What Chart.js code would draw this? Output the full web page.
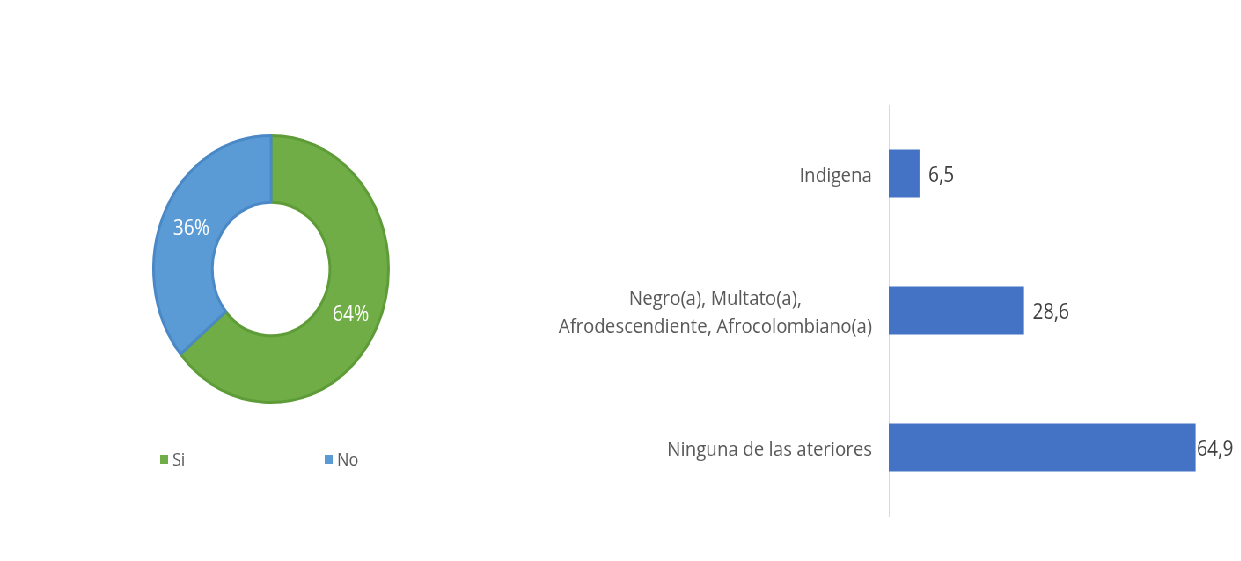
<!DOCTYPE html>
<html lang="es">
<head>
    <meta charset="UTF-8">
    <title>Autorreconocimiento étnico</title>
    <script src="https://cdn.jsdelivr.net/npm/chart.js"></script>
    <style>
        body { margin: 0; background-color: #ffffff; overflow: hidden; }
        #lienzo { position: absolute; left: 0; top: 0; width: 1410px; height: 561px; transform: scaleX(0.88); transform-origin: 0 0; }
        #cajaDona { position: absolute; left: 0; top: 0; width: 640px; height: 561px; }
        #cajaBarras { position: absolute; left: 620px; top: 0; width: 790px; height: 561px; }
    </style>
</head>
<body>
<div id="lienzo">
    <div id="cajaDona"><canvas id="dona"></canvas></div>
    <div id="cajaBarras"><canvas id="barras"></canvas></div>
</div>

<script>
    // Datos de la dona
    const respuestas = ['Si', 'No'];
    const porcentajes = [64, 36];
    const coloresDona = ['#70ad47', '#5b9bd5'];
    const bordesDona = ['#5e9c38', '#4a89c6'];

    // Datos de las barras
    const grupos = [
        ['Indigena'],
        ['Negro(a), Multato(a),', 'Afrodescendiente, Afrocolombiano(a)'],
        ['Ninguna de las ateriores']
    ];
    const valores = [6.5, 28.6, 64.9];

    const fuente = '"Open Sans", sans-serif';

    // etiquetas blancas dentro de la dona
    const etiquetasDona = {
        id: 'etiquetasDona',
        afterDatasetsDraw(chart) {
            const ctx = chart.ctx;
            const meta = chart.getDatasetMeta(0);
            ctx.save();
            ctx.font = '21px ' + fuente;
            ctx.fillStyle = '#ffffff';
            ctx.textAlign = 'center';
            ctx.textBaseline = 'middle';
            meta.data.forEach((arco, i) => {
                const p = arco.tooltipPosition();
                ctx.fillText(porcentajes[i] + '%', p.x, p.y + 3);
            });
            ctx.restore();
        }
    };

    // leyenda debajo de la dona
    const leyendaDona = {
        id: 'leyendaDona',
        afterDraw(chart) {
            const ctx = chart.ctx;
            const a = chart.chartArea;
            const cx = (a.left + a.right) / 2;
            const y = 460;
            const posiciones = [cx - 126, cx + 61];
            ctx.save();
            ctx.font = '18px ' + fuente;
            ctx.textBaseline = 'middle';
            respuestas.forEach((r, i) => {
                ctx.fillStyle = coloresDona[i];
                ctx.fillRect(posiciones[i], y - 5, 9, 9);
                ctx.fillStyle = '#595959';
                ctx.fillText(r, posiciones[i] + 14, y + 1);
            });
            ctx.restore();
        }
    };

    new Chart(document.getElementById('dona'), {
        type: 'doughnut',
        data: {
            labels: respuestas,
            datasets: [{
                data: porcentajes,
                backgroundColor: coloresDona,
                borderColor: bordesDona,
                borderWidth: 3
            }]
        },
        options: {
            responsive: true,
            maintainAspectRatio: false,
            animation: false,
            cutout: '50%',
            layout: { padding: { left: 173, top: 134, right: 197, bottom: 157 } },
            plugins: { legend: { display: false }, tooltip: { enabled: false } }
        },
        plugins: [etiquetasDona, leyendaDona]
    });

    // nombres de categoria y valores de las barras
    const textosBarras = {
        id: 'textosBarras',
        afterDatasetsDraw(chart) {
            const ctx = chart.ctx;
            const escalaY = chart.scales.y;
            const meta = chart.getDatasetMeta(0);
            ctx.save();
            ctx.font = '20.5px ' + fuente;
            ctx.textBaseline = 'middle';
            const lineaAlto = 28;
            grupos.forEach((lineas, i) => {
                const yc = escalaY.getPixelForTick(i) + 3;
                const ancho = Math.max(...lineas.map(l => ctx.measureText(l).width));
                const xc = escalaY.left - 19 - ancho / 2;
                ctx.fillStyle = '#595959';
                ctx.textAlign = 'center';
                lineas.forEach((l, j) => {
                    const y = yc + (j - (lineas.length - 1) / 2) * lineaAlto;
                    ctx.fillText(l, xc, y);
                });
            });
            ctx.font = '21px ' + fuente;
            ctx.fillStyle = '#404040';
            ctx.textAlign = 'left';
            meta.data.forEach((barra, i) => {
                const txt = valores[i].toFixed(1).replace('.', ',');
                const w = ctx.measureText(txt).width;
                const x = Math.min(barra.x + 10, chart.width - w - 8.5);
                ctx.fillText(txt, x, barra.y + 3);
            });
            ctx.restore();
        }
    };

    new Chart(document.getElementById('barras'), {
        type: 'bar',
        data: {
            labels: grupos,
            datasets: [{
                data: valores,
                backgroundColor: '#4472c4',
                categoryPercentage: 1,
                barPercentage: 0.35
            }]
        },
        options: {
            indexAxis: 'y',
            responsive: true,
            maintainAspectRatio: false,
            animation: false,
            layout: { padding: { left: 390, top: 105, right: 24, bottom: 45 } },
            scales: {
                x: { min: 0, max: 70, display: false },
                y: {
                    grid: { display: false, drawTicks: false },
                    border: { display: true, color: '#d9d9d9', width: 1 },
                    ticks: { display: false }
                }
            },
            plugins: { legend: { display: false }, tooltip: { enabled: false } }
        },
        plugins: [textosBarras]
    });
</script>
</body>
</html>
